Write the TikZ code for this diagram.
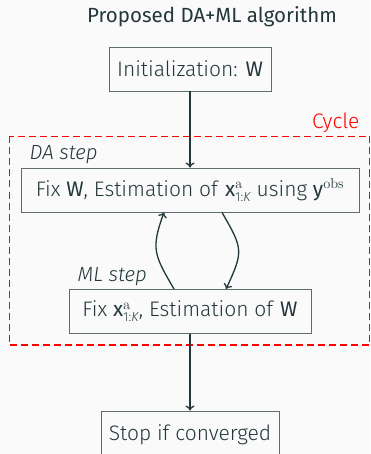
\documentclass[tikz,border=0pt]{standalone}
\usepackage[no-math]{fontspec}
\setmainfont{Fira Sans}[UprightFont=* Light, ItalicFont=* Light Italic, BoldFont=*, BoldItalicFont=* Italic]
\newfontfamily\firareg{Fira Sans}
\usetikzlibrary{calc,arrows.meta}
\definecolor{bg}{HTML}{FAFAFA}
\definecolor{fg}{HTML}{23373B}
\definecolor{boxline}{HTML}{5E6C6E}
\definecolor{txt}{HTML}{23373B}
\newcommand{\xak}{\textbf{x}$^{\mathrm{a}}_{\mbox{\fontsize{13}{13}\selectfont 1:\itshape K}}$}
\begin{document}
\begin{tikzpicture}[x=1pt,y=-1pt,
  every node/.style={text=txt, font=\fontsize{21}{25}\selectfont},
  box/.style={draw=boxline, line width=0.9pt, fill=bg, inner sep=0pt, align=center},
  flow/.style={draw=fg, line width=1.3pt, -{To[length=5pt,width=9pt]}},
  cyclebox/.style={draw=red, line width=1.5pt, dash pattern=on 7pt off 4pt},
  steplbl/.style={anchor=west, text=fg, font=\fontsize{20.5}{24}\selectfont\itshape}]
  \fill[bg] (0,0) rectangle (370,454);
  \useasboundingbox (0,0) rectangle (370,454);
  \node[font=\fontsize{20.5}{24}\firareg] (title) at (212,17) {Proposed DA+ML algorithm};
  \coordinate (cyTL) at (9.5,136.5);
  \coordinate (cyBR) at (369.5,345);
  \draw[cyclebox] (cyTL) rectangle (cyBR);
  \node[anchor=east, text=red] (cyclelbl) at (363,123) {Cycle};
  \node[box, minimum width=162pt, minimum height=44pt] (init) at (190,69) {Initialization: \textbf{W}};
  \node[steplbl] (dalbl) at (26,155) {DA step};
  \node[box, minimum width=338pt, minimum height=44pt] (da) at (190,190) {Fix \textbf{W}, Estimation of \xak{} using \textbf{y}$^{\mathrm{obs}}$};
  \node[steplbl] (mllbl) at (74,277) {ML step};
  \node[box, minimum width=242pt, minimum height=44pt] (ml) at (190,311.5) {Fix \xak, Estimation of \textbf{W}};
  \node[box, minimum width=178pt, minimum height=48pt] (stop) at (190,435) {Stop if converged};
  \draw[flow] (init) -- (da);
  \draw[flow] (ml) -- (stop);
  \draw[flow] ($(ml.north)+(-16,0)$) to[out=120,in=-110,looseness=1.3] ($(da.south)+(-26,0)$);
  \draw[flow] ($(da.south)+(32,0)$) to[out=-60,in=65,looseness=1.4] ($(ml.north)+(36,0)$);
\end{tikzpicture}
\end{document}
